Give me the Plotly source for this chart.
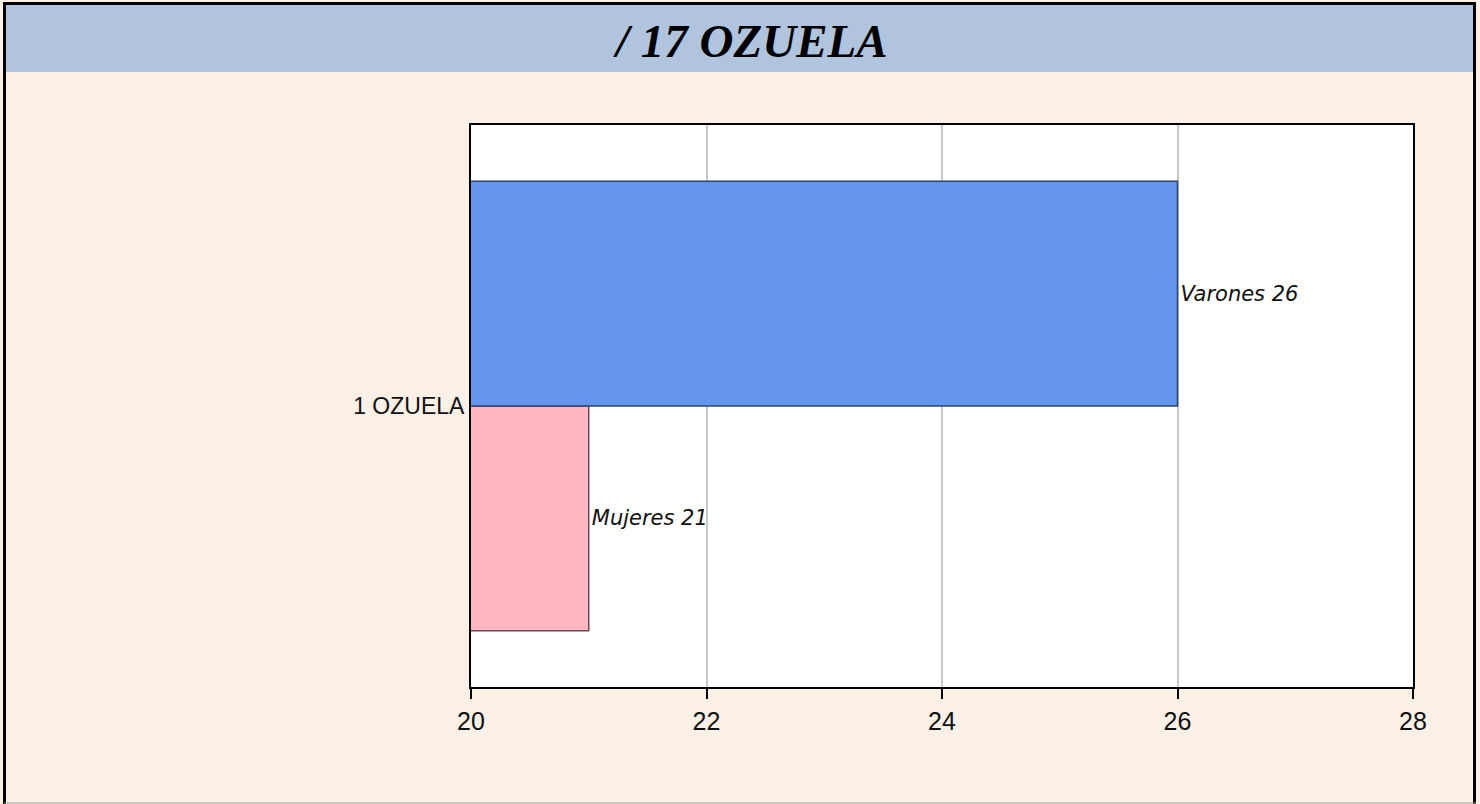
import plotly.graph_objects as go

# ---- data ----
title_text = "/ 17 OZUELA"
category = ["1 OZUELA"]
series_names = ["Mujeres", "Varones"]
mujeres_vals = [21]
varones_vals = [26]
x_tick_vals = [20, 22, 24, 26, 28]
x_range = [20, 28]

W, H = 1480, 804
L, R, T, B = 471, 1413, 125, 687  # plot area pixel box
pw, ph = R - L, B - T


def px(x):
    return (x - L) / pw


def py(y):
    return (B - y) / ph


label_font = dict(family="DejaVu Sans", size=21, style="italic", color="#111")

fig = go.Figure()
fig.add_trace(go.Bar(
    y=category, x=mujeres_vals, orientation="h", name=series_names[0],
    marker=dict(color="#FFB6C1", line=dict(color="#6a4a50", width=1.5)),
    text=[f"{series_names[0]} {v}" for v in mujeres_vals],
    textposition="outside", textfont=label_font,
))
fig.add_trace(go.Bar(
    y=category, x=varones_vals, orientation="h", name=series_names[1],
    marker=dict(color="#6495ED", line=dict(color="#2c4470", width=1.5)),
    text=[f"{series_names[1]} {v}" for v in varones_vals],
    textposition="outside", textfont=label_font,
))

fig.update_layout(
    width=W, height=H,
    margin=dict(l=L, r=W - R, t=T, b=H - B, pad=0),
    paper_bgcolor="#FAF0E6",
    plot_bgcolor="white",
    barmode="group",
    bargap=0.2,
    bargroupgap=0.0,
    showlegend=False,
    xaxis=dict(
        range=x_range, tickvals=x_tick_vals, ticktext=[str(v) for v in x_tick_vals],
        showgrid=True, gridcolor="#C8C8C8", gridwidth=1.5,
        showline=True, linecolor="black", linewidth=2, mirror=True,
        ticks="outside", ticklen=10, tickwidth=2, tickcolor="black",
        ticklabelstandoff=1,
        tickfont=dict(family="Liberation Sans", size=25, color="#111"),
        zeroline=False, fixedrange=True,
    ),
    yaxis=dict(
        showline=True, linecolor="black", linewidth=2, mirror=True,
        ticks="", showgrid=False,
        tickfont=dict(family="Liberation Sans", size=23, color="#111"),
        fixedrange=True,
    ),
    shapes=[
        # title bar
        dict(type="rect", xref="paper", yref="paper",
             x0=px(6), x1=px(1474), y0=py(72), y1=py(5),
             fillcolor="#B0C4DE", line=dict(width=0), layer="below"),
        # outer border
        dict(type="line", xref="paper", yref="paper",
             x0=px(4.5), x1=px(4.5), y0=py(804), y1=py(3), line=dict(color="black", width=3)),
        dict(type="line", xref="paper", yref="paper",
             x0=px(3), x1=px(1476), y0=py(3.5), y1=py(3.5), line=dict(color="black", width=3)),
        dict(type="line", xref="paper", yref="paper",
             x0=px(1474.5), x1=px(1474.5), y0=py(804), y1=py(3), line=dict(color="black", width=3)),
        dict(type="line", xref="paper", yref="paper",
             x0=px(4), x1=px(1476), y0=py(803), y1=py(803), line=dict(color="#A0A0A0", width=1)),
    ],
    annotations=[
        dict(text=title_text, xref="paper", yref="paper",
             x=px(750), y=py(41), xanchor="center", yanchor="middle",
             showarrow=False,
             font=dict(family="Liberation Serif", size=47, weight="bold",
                       style="italic", color="black")),
    ],
)

fig.write_html(
    "out.html",
    config={"displayModeBar": False},
    post_script="document.body.style.margin='0';document.body.style.overflow='hidden';",
)
